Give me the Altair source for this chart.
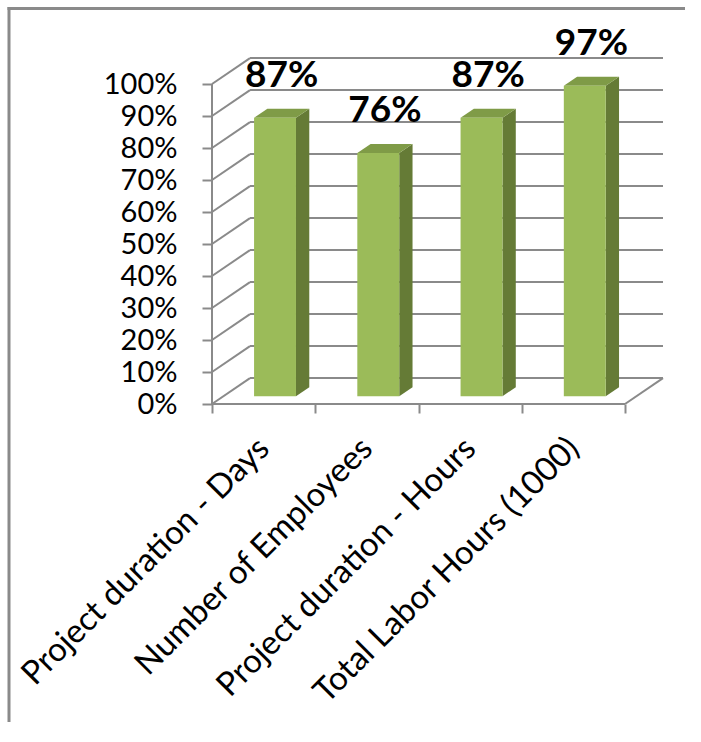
import json

import altair as alt
import pandas as pd

# ---- data -------------------------------------------------------------
categories = [
    "Project duration - Days",
    "Number of Employees",
    "Project duration - Hours",
    "Total Labor Hours (1000)",
]
shares = [0.87, 0.76, 0.87, 0.97]
y_ticks = [0.0, 0.1, 0.2, 0.3, 0.4, 0.5, 0.6, 0.7, 0.8, 0.9, 1.0]

# ---- 3-D box geometry, expressed in axis units ---------------------------
DEPTH_X = 0.368          # floor depth along x (category units)
DEPTH_Y = 0.081          # floor depth along y (share units)
BAR_W = 0.406            # bar width (category units)
Z_FRONT, Z_BACK = 0.30, 0.65   # bar front / back position inside the depth

GRID = "#8a8a8a"
FRONT = "#9bbb59"
TOP = "#7f9b47"
SIDE = "#657b36"
FONT = "Lato"

# plot size and the space around it
W, H = 451, 352
PAD = {"left": 212, "top": 52, "right": 36, "bottom": 330}

n = len(categories)
x_max = n + DEPTH_X
y_max = 1.1

xs = alt.Scale(domain=[0, x_max], nice=False, zero=False)
ys = alt.Scale(domain=[0, y_max], nice=False, zero=False)

# ---- wall, floor and axis lines -----------------------------------------
lines = []
for t in y_ticks:
    # side wall diagonal and back wall gridline
    lines.append(dict(x=0, y=t, x2=DEPTH_X, y2=t + DEPTH_Y))
    lines.append(dict(x=DEPTH_X, y=t + DEPTH_Y, x2=n + DEPTH_X, y2=t + DEPTH_Y))
lines.append(dict(x=0, y=0, x2=0, y2=y_ticks[-1]))          # front value axis
lines.append(dict(x=0, y=0, x2=n, y2=0))                    # front category axis
lines.append(dict(x=n, y=0, x2=n + DEPTH_X, y2=DEPTH_Y))    # floor right edge
lines_df = pd.DataFrame(lines)


# outer frame (left and top edges), placed in scale units from page pixels
def page_x(px):
    return (px - PAD["left"]) / W * x_max


def page_y(py):
    return (PAD["top"] + H - py) / H * y_max


page_w = PAD["left"] + W + PAD["right"]
page_h = PAD["top"] + H + PAD["bottom"]
frame_df = pd.DataFrame([
    dict(x=page_x(9), x2=page_x(9), y=page_y(7), y2=page_y(page_h - 12)),
    dict(x=page_x(7.5), x2=page_x(page_w - 14), y=page_y(8.5), y2=page_y(8.5)),
])

# ---- bar faces ------------------------------------------------------------
front_rows, side_rows, top_rows, label_rows = [], [], [], []
for i, (cat, v) in enumerate(zip(categories, shares)):
    c = i + 0.5
    xl = c - BAR_W / 2 + Z_FRONT * DEPTH_X
    xr = c + BAR_W / 2 + Z_FRONT * DEPTH_X
    y0 = Z_FRONT * DEPTH_Y
    ddx = (Z_BACK - Z_FRONT) * DEPTH_X
    ddy = (Z_BACK - Z_FRONT) * DEPTH_Y
    front_rows.append(dict(cat=cat, x=xl, x2=xr, y=y0, y2=v + y0))
    side_rows.append(dict(cat=cat, x=xr, y=y0, y2=v + y0))
    side_rows.append(dict(cat=cat, x=xr + ddx, y=y0 + ddy, y2=v + y0 + ddy))
    top_rows.append(dict(cat=cat, y=v + y0, x=xl, x2=xr))
    top_rows.append(dict(cat=cat, y=v + y0 + ddy, x=xl + ddx, x2=xr + ddx))
    label_rows.append(dict(cat=cat, x=c + (Z_FRONT + Z_BACK) / 2 * DEPTH_X, y=v + y0, v=v))

front_df = pd.DataFrame(front_rows)
side_df = pd.DataFrame(side_rows)
top_df = pd.DataFrame(top_rows)
label_df = pd.DataFrame(label_rows)

# category names placed at band centres through labelExpr
names_js = json.dumps(categories)
x_axis = alt.Axis(
    values=[k / 2 for k in range(2 * n + 1)],
    labelExpr=f"datum.value % 1 == 0 ? '' : {names_js}[floor(datum.value)]",
    tickOpacity={"condition": {"test": "datum.value % 1 != 0", "value": 0}, "value": 1},
    domain=False,
    grid=False,
    tickSize=9,
    tickWidth=2,
    tickColor=GRID,
    labelAngle=-45,
    labelAlign="right",
    labelBaseline="middle",
    labelOffset=0,
    labelPadding=30,
    labelFont=FONT,
    labelFontSize=33,
    labelColor="black",
    labelLimit=1000,
    labelOverlap=False,
    labelFlush=False,
    labelBound=False,
    title=None,
)
y_axis = alt.Axis(
    values=y_ticks,
    format=".0%",
    domain=False,
    grid=False,
    tickSize=10,
    tickWidth=2,
    tickColor=GRID,
    labelPadding=25,
    labelFont=FONT,
    labelFontSize=29,
    labelColor="black",
    labelLimit=1000,
    labelOverlap=False,
    labelBound=False,
    title=None,
)


def X(field):
    return alt.X(field, type="quantitative", scale=xs, axis=x_axis)


def Y(field):
    return alt.Y(field, type="quantitative", scale=ys, axis=y_axis)


walls = alt.Chart(lines_df).mark_rule(color=GRID, strokeWidth=2).encode(
    x=X("x"), x2="x2:Q", y=Y("y"), y2="y2:Q",
)

frame = alt.Chart(frame_df).mark_rule(color=GRID, strokeWidth=3).encode(
    x=X("x"), x2="x2:Q", y=Y("y"), y2="y2:Q",
)

side = alt.Chart(side_df).mark_area(color=SIDE, orient="vertical").encode(
    x=X("x"), y=Y("y"), y2="y2:Q", detail="cat:N",
)

top = alt.Chart(top_df).mark_area(color=TOP, orient="horizontal").encode(
    y=Y("y"), x=X("x"), x2="x2:Q", detail="cat:N",
)

front = alt.Chart(front_df).mark_rect(color=FRONT).encode(
    x=X("x"), x2="x2:Q", y=Y("y"), y2="y2:Q",
)

labels = alt.Chart(label_df).mark_text(
    font=FONT, fontSize=37, fontWeight="bold", color="black",
    baseline="alphabetic", align="center", dy=-31,
).encode(
    x=X("x"), y=Y("y"), text=alt.Text("v:Q", format=".0%"),
)

chart = (
    alt.layer(walls, frame, side, top, front, labels)
    .properties(
        width=W,
        height=H,
        autosize=alt.AutoSizeParams(type="none"),
        padding=PAD,
        background="white",
    )
    .configure_view(stroke=None)
)

chart.save("out.html", embed_options={"renderer": "svg", "actions": False})
